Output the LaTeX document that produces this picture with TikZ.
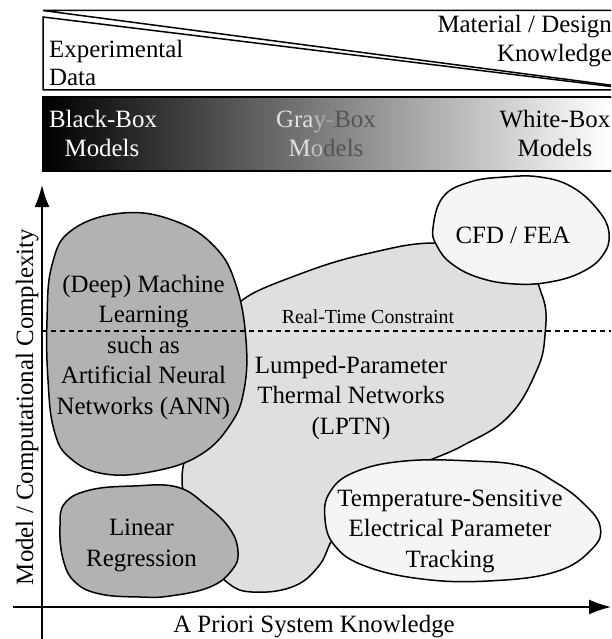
\documentclass[tikz,border=0pt]{standalone}
\usepackage{fontspec}
\setmainfont{Liberation Serif}
\usetikzlibrary{arrows.meta}

\definecolor{darkblob}{gray}{0.70}
\definecolor{midblob}{gray}{0.875}
\definecolor{paleblob}{HTML}{F4F5F7}
\definecolor{grayhi}{gray}{0.88}
\definecolor{graymid}{gray}{0.62}
\definecolor{graylo}{gray}{0.33}

\begin{document}
\begin{tikzpicture}[x=1pt,y=-1pt,
  blob/.style={draw=black, line width=1.5pt, line join=round},
  txt/.style={font=\fontsize{24.9}{30.5}\selectfont, align=center, anchor=base, inner sep=0pt},
  frame/.style={draw=black, line width=1.5pt},
  axis/.style={line width=1.5pt, -{Latex[length=22pt,width=15pt]}}]
\useasboundingbox (0,0) rectangle (611,639);
\clip (0,0) rectangle (611,639);

% knowledge wedges
\draw[frame] (43,10.5) -- (640,10.5) -- (640,89) -- cycle;
\draw[frame] (43,17) -- (43,90) -- (640,90) -- cycle;
\node[txt, anchor=base west] (exp) at (49,58) {Experimental};
\node[txt, anchor=base west] (data) at (49,86) {Data};
\node[txt, anchor=base east] (mat) at (612,33) {Material / Design};
\node[txt, anchor=base east] (know) at (612,62) {Knowledge};

% model colour bar
\shade[left color=black, middle color=black!42, right color=white] (43,97) rectangle (611,171);
\draw[frame] (640,97) -- (43,97) -- (43,171) -- (640,171);
\node[txt, text=white] (bb) at (103,128) {Black-Box};
\node[txt, text=white] (bbm) at (102,157) {Models};
\node[txt] (gb) at (326,128) {\textcolor{grayhi}{Gra}\textcolor{graymid!60!grayhi}{y}\textcolor{graymid}{-}\textcolor{graylo}{Box}};
\node[txt] (gbm) at (326,157) {\textcolor{grayhi}{M}\textcolor{graymid!50!grayhi}{o}\textcolor{graylo}{dels}};
\node[txt] (wb) at (555,128) {White-Box};
\node[txt] (wbm) at (555,157) {Models};

% model regions
\filldraw[blob, fill=midblob] plot[smooth cycle, tension=0.7] coordinates {
  (240,302) (300,274) (370,253) (440,243) (515,255) (542,295) (545,335)
  (536,372) (508,417) (462,446) (410,470) (350,510) (332,540) (318,567)
  (292,587) (252,592) (228,583) (210,560) (190,510) (182,478) (192,440)
  (220,380) (236,330)};
\filldraw[blob, fill=darkblob] plot[smooth cycle, tension=0.7] coordinates {
  (123,213) (175,221) (215,247) (236,285) (246,340) (244,390) (230,425)
  (200,455) (155,471) (105,474) (70,458) (54,430) (48,380) (47,320)
  (52,265) (72,230)};
\filldraw[blob, fill=darkblob] plot[smooth cycle, tension=0.7] coordinates {
  (133,486) (177,487) (207,506) (230,529) (238,552) (232,570) (210,587)
  (170,596) (140,597) (100,594) (75,582) (63,559) (60,526) (65,503) (90,490)};
\filldraw[blob, fill=paleblob] plot[smooth cycle, tension=0.7] coordinates {
  (433,228) (443,197) (470,182) (505,177) (540,177) (572,187) (598,210)
  (609,233) (603,255) (582,272) (550,282) (515,284) (480,278) (452,264) (437,246)};
\filldraw[blob, fill=paleblob] plot[smooth cycle, tension=0.7] coordinates {
  (330,492) (355,472) (405,461) (472,461) (522,466) (555,482) (582,502)
  (600,526) (592,549) (555,572) (488,581) (422,579) (365,566) (335,546) (325,519)};

% real-time limit
\draw[line width=1.3pt, dash pattern=on 5pt off 4pt] (42,331) -- (611,331);
\node[font=\fontsize{19.9}{24}\selectfont, anchor=base, inner sep=0pt] (rt) at (368,323) {Real-Time Constraint};

% region labels (anchored on the baseline of their last line)
\node[txt] (ml) at (143.5,414) {(Deep) Machine\\Learning\\such as\\Artificial Neural\\Networks (ANN)};
\node[txt] (lptn) at (351,434) {Lumped-Parameter\\Thermal Networks\\(LPTN)};
\node[txt] (lr) at (141.5,566) {Linear\\Regression};
\node[txt] (cfd) at (513,243) {CFD / FEA};
\node[txt] (tsep) at (450,567) {Temperature-Sensitive\\Electrical Parameter\\Tracking};

% axes
\coordinate (yfoot) at (42,645);
\coordinate (ytip) at (42,185);
\coordinate (xfoot) at (13,607);
\coordinate (xtip) at (611,607);
\draw[axis] (yfoot) -- (ytip);
\draw[axis] (xfoot) -- (xtip);
\node[txt] (xlab) at (314,632) {A Priori System Knowledge};
\node[txt, rotate=90] (ylab) at (33,407) {Model / Computational Complexity};
\end{tikzpicture}
\end{document}
